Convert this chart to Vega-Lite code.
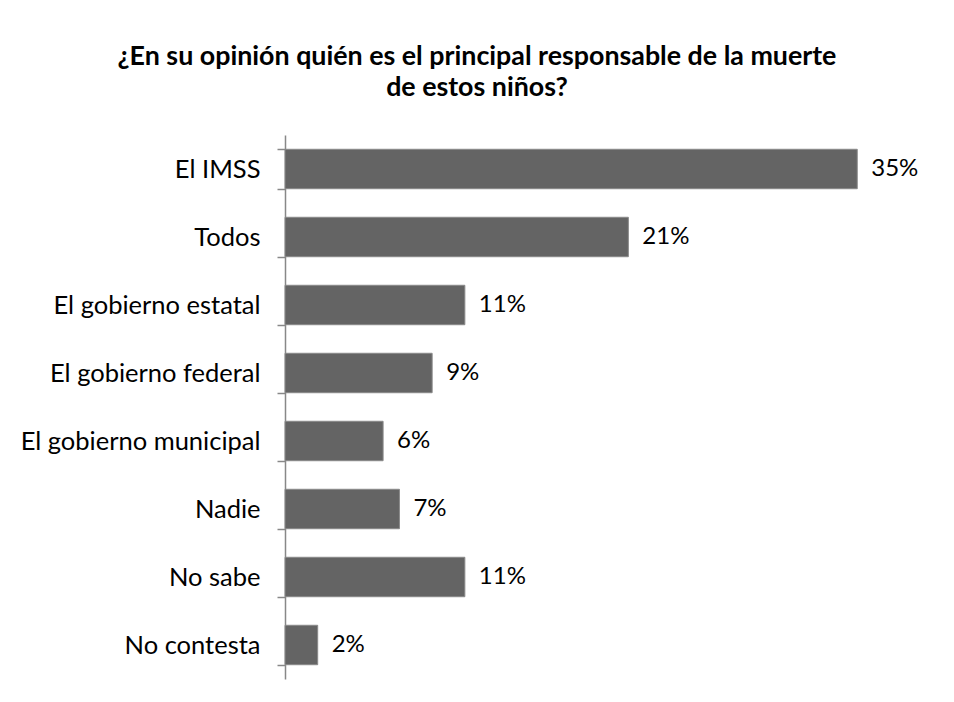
{
  "$schema": "https://vega.github.io/schema/vega-lite/v6.json",
  "autosize": {"type": "none"},
  "width": 654,
  "height": 544,
  "padding": {"left": 285, "top": 135, "right": 15, "bottom": 23},
  "background": "white",
  "title": {
    "text": ["¿En su opinión quién es el principal responsable de la muerte", "de estos niños?"],
    "font": "Lato",
    "fontSize": 26.8,
    "fontWeight": "bold",
    "color": "black",
    "lineHeight": 31,
    "anchor": "middle",
    "dx": -135,
    "offset": 21
  },
  "data": {
    "values": [
      {"cat": "El IMSS", "pct": 0.35},
      {"cat": "Todos", "pct": 0.21},
      {"cat": "El gobierno estatal", "pct": 0.11},
      {"cat": "El gobierno federal", "pct": 0.09},
      {"cat": "El gobierno municipal", "pct": 0.06},
      {"cat": "Nadie", "pct": 0.07},
      {"cat": "No sabe", "pct": 0.11},
      {"cat": "No contesta", "pct": 0.02}
    ]
  },
  "encoding": {
    "y": {
      "field": "cat",
      "type": "nominal",
      "sort": null,
      "scale": {"paddingInner": 0.42, "paddingOuter": 0.21},
      "axis": {
        "title": null,
        "domainColor": "#888888",
        "domainWidth": 1.5,
        "tickColor": "#888888",
        "tickWidth": 1.5,
        "tickSize": 8,
        "tickBand": "extent",
        "labelFont": "Lato",
        "labelFontSize": 25.5,
        "labelColor": "black",
        "labelPadding": 17,
        "labelLimit": 400
      }
    },
    "x": {
      "field": "pct",
      "type": "quantitative",
      "scale": {"domain": [0, 0.4], "nice": false},
      "axis": null
    }
  },
  "layer": [
    {"mark": {"type": "bar", "color": "#646464", "stroke": "#8a8a8a", "strokeWidth": 1}},
    {
      "mark": {"type": "text", "align": "left", "baseline": "middle", "dx": 14, "font": "Lato", "fontSize": 24, "color": "black"},
      "encoding": {"text": {"field": "pct", "type": "quantitative", "format": ".0%"}}
    }
  ],
  "config": {"view": {"stroke": null}}
}
